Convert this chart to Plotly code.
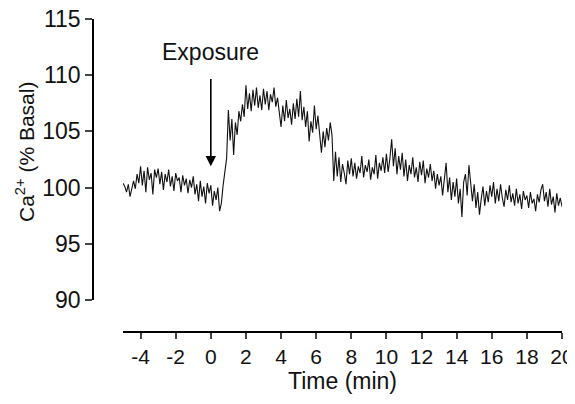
import numpy as np
import plotly.graph_objects as go

# Time axis (min), 0.1 min sampling
t_start = -5.0
t_step = 0.1

ca_m5 = [100.4, 100.1, 99.6, 100.3, 99.2, 99.8, 100.6, 99.9, 101.2, 100.4]
ca_m4 = [101.9, 100.2, 101.5, 99.6, 101.8, 100.7, 101.3, 99.4, 101.6, 100.9]
ca_m3 = [101.7, 100.3, 101.4, 99.8, 101.2, 100.5, 101.6, 100.1, 101.0, 99.7]
ca_m2 = [101.3, 100.6, 100.9, 99.6, 101.1, 100.2, 100.8, 99.5, 100.7, 100.0]
ca_m1 = [101.0, 99.4, 100.3, 98.8, 100.6, 99.2, 100.1, 98.6, 100.4, 99.5]
ca_0 = [100.2, 98.4, 99.7, 98.9, 100.0, 97.9, 98.6, 100.2, 101.5, 102.6]
ca_1 = [106.9, 104.2, 106.1, 102.9, 105.8, 104.7, 106.8, 105.9, 107.4, 106.3]
ca_2 = [109.1, 107.0, 108.4, 106.8, 108.7, 107.3, 108.9, 107.1, 108.2, 106.9]
ca_3 = [108.8, 107.4, 108.6, 106.9, 108.3, 107.6, 108.9, 107.2, 108.0, 106.6]
ca_4 = [105.4, 107.3, 105.9, 107.8, 106.2, 107.0, 105.6, 107.5, 106.1, 107.9]
ca_5 = [106.3, 108.6, 106.0, 107.2, 105.4, 106.8, 104.1, 105.9, 104.9, 107.3]
ca_6 = [105.2, 106.4, 104.6, 103.1, 105.0, 103.6, 105.3, 104.2, 105.8, 104.7]
ca_7 = [100.6, 103.2, 101.0, 102.7, 100.5, 102.1, 101.3, 100.3, 102.4, 101.2]
ca_8 = [102.6, 101.0, 102.2, 100.8, 101.9, 101.3, 102.8, 100.9, 102.0, 101.4]
ca_9 = [102.5, 100.7, 101.8, 101.2, 102.9, 100.8, 102.2, 101.5, 102.7, 101.3]
ca_10 = [103.0, 101.4, 102.6, 104.3, 101.9, 103.5, 101.2, 102.8, 101.6, 103.1]
ca_11 = [101.0, 102.5, 100.6, 102.0, 101.2, 102.7, 100.9, 101.8, 100.5, 102.3]
ca_12 = [101.1, 102.4, 100.4, 101.7, 100.9, 102.1, 100.6, 101.5, 99.9, 101.2]
ca_13 = [100.2, 101.0, 99.3, 100.6, 102.2, 99.6, 100.9, 98.9, 100.5, 99.2]
ca_14 = [100.8, 98.6, 99.9, 97.4, 100.5, 101.2, 99.3, 102.0, 100.1, 98.8]
ca_15 = [100.3, 98.2, 99.6, 97.6, 99.0, 100.1, 98.4, 99.7, 98.7, 100.2]
ca_16 = [99.2, 100.5, 98.6, 99.9, 98.8, 100.3, 99.1, 98.3, 99.8, 98.9]
ca_17 = [100.2, 98.7, 99.5, 98.4, 99.9, 98.6, 99.4, 98.1, 99.7, 98.9]
ca_18 = [99.3, 98.2, 99.6, 98.6, 99.0, 97.9, 99.4, 98.7, 99.8, 100.3]
ca_19 = [98.8, 99.6, 98.3, 99.9, 98.5, 99.2, 97.8, 99.5, 98.4, 99.1]
ca_20 = [98.3]

ca = (ca_m5 + ca_m4 + ca_m3 + ca_m2 + ca_m1 + ca_0 + ca_1 + ca_2 + ca_3 + ca_4
      + ca_5 + ca_6 + ca_7 + ca_8 + ca_9 + ca_10 + ca_11 + ca_12 + ca_13
      + ca_14 + ca_15 + ca_16 + ca_17 + ca_18 + ca_19 + ca_20)
time = [round(t_start + i * t_step, 2) for i in range(len(ca))]

x_ticks = list(range(-4, 21, 2))
x_labels = [str(v) for v in x_ticks]
y_ticks = [90, 95, 100, 105, 110, 115]
y_labels = [str(v) for v in y_ticks]

FONT = "Liberation Sans, Arial, sans-serif"

fig = go.Figure()
fig.add_trace(go.Scatter(x=time, y=ca, mode="lines",
                         line=dict(color="#111111", width=1.1), showlegend=False))

# page body has an 8px margin, so the figure is 8px smaller and margins shifted
fig.update_layout(
    width=567, height=396,
    margin=dict(l=85, r=13, t=11, b=72),
    paper_bgcolor="white", plot_bgcolor="white",
    font=dict(family=FONT, size=21, color="#111111"),
    xaxis=dict(range=[-5, 20], domain=[0.064, 1], anchor="free", position=0,
               tickvals=x_ticks, ticktext=x_labels, ticks="outside",
               ticklen=6, tickwidth=1.5, tickfont=dict(size=21),
               ticklabeloverflow="allow",
               showline=True, linecolor="black", linewidth=1.5,
               showgrid=False, zeroline=False, automargin=False,
               title=dict(text="Time (min)", font=dict(size=23), standoff=4)),
    yaxis=dict(range=[90, 115], domain=[0.102, 1], anchor="free", position=0,
               tickvals=y_ticks, ticktext=y_labels, ticks="outside",
               ticklen=7, tickwidth=1.5, tickfont=dict(size=23),
               ticklabeloverflow="allow",
               showline=True, linecolor="black", linewidth=1.5,
               showgrid=False, zeroline=False, automargin=False),
)

# y-axis title placed as a rotated annotation to match the reference position
fig.add_annotation(x=-0.145, y=0.575, xref="paper", yref="paper",
                   xanchor="center", yanchor="middle",
                   text="Ca<sup>2+</sup> (% Basal)", textangle=-90,
                   showarrow=False, font=dict(size=21))

fig.add_annotation(x=0, y=101.9, ax=0, ay=109.8, xref="x", yref="y",
                   axref="x", ayref="y", text="", showarrow=True,
                   arrowhead=2, arrowsize=1.3, arrowwidth=1.6, arrowcolor="black")
fig.add_annotation(x=0, y=112.1, xref="x", yref="y", text="Exposure",
                   showarrow=False, font=dict(size=23))

fig.write_html("out.html")
